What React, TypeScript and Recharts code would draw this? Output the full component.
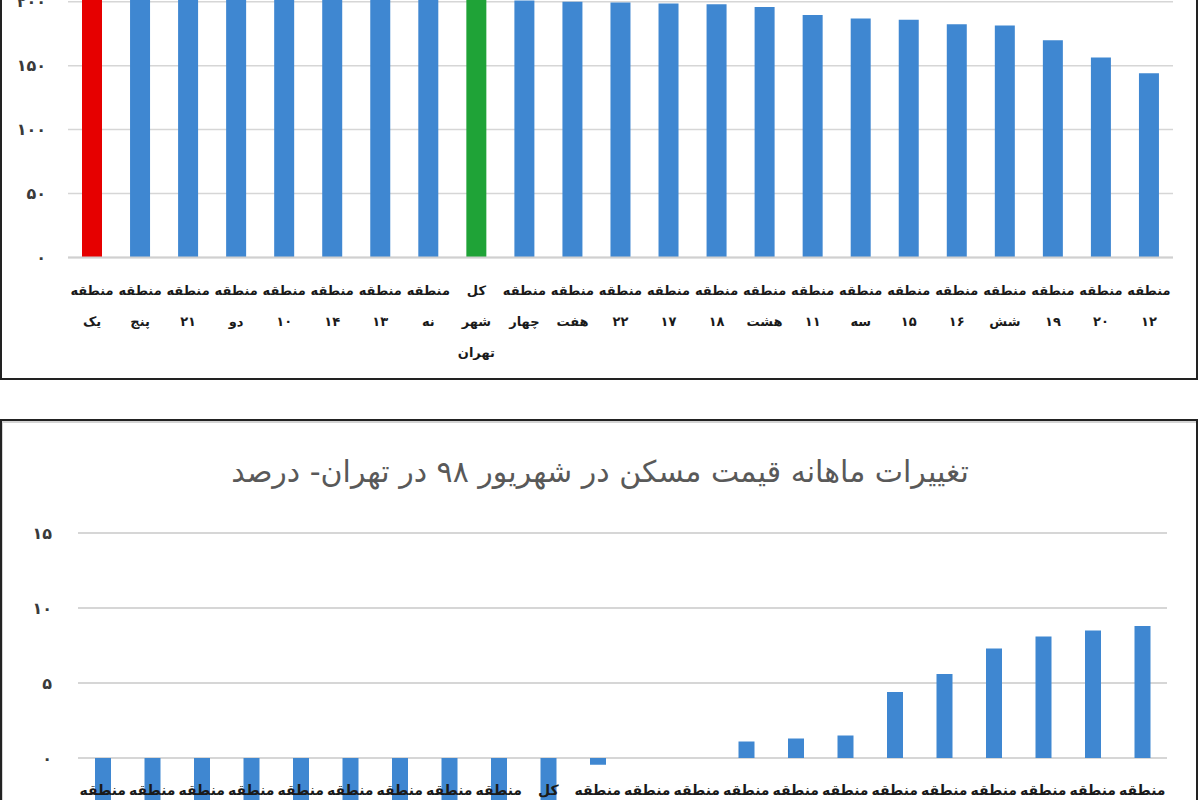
import React from 'react';
import { BarChart, Bar, XAxis, YAxis, CartesianGrid, Cell } from 'recharts';

// ---------- Top chart data ----------
const topCategories = [
  'منطقه یک', 'منطقه پنج', 'منطقه ۲۱', 'منطقه دو', 'منطقه ۱۰', 'منطقه ۱۴', 'منطقه ۱۳', 'منطقه نه',
  'کل شهر تهران', 'منطقه چهار', 'منطقه هفت', 'منطقه ۲۲', 'منطقه ۱۷', 'منطقه ۱۸', 'منطقه هشت',
  'منطقه ۱۱', 'منطقه سه', 'منطقه ۱۵', 'منطقه ۱۶', 'منطقه شش', 'منطقه ۱۹', 'منطقه ۲۰', 'منطقه ۱۲',
];
const topValues = [
  262, 243, 234, 228, 222, 217, 213, 209,
  205, 201, 200, 199.5, 198.7, 198, 196,
  189.6, 187, 186, 182.5, 181.5, 170, 156.5, 144,
];
const topTicks = [0, 50, 100, 150, 200, 250, 300];

// ---------- Bottom chart data ----------
const bottomTitle = 'تغییرات ماهانه قیمت مسکن در شهریور ۹۸ در تهران- درصد';
const bottomCategories = [
  'منطقه یک', 'منطقه دو', 'منطقه سه', 'منطقه ۱۴', 'منطقه پنج', 'منطقه ۱۳', 'منطقه ۲۱', 'منطقه ۱۰',
  'منطقه نه', 'کل شهر تهران', 'منطقه هفت', 'منطقه شش', 'منطقه ۱۸', 'منطقه چهار', 'منطقه ۱۷',
  'منطقه هشت', 'منطقه ۱۱', 'منطقه ۱۵', 'منطقه ۱۶', 'منطقه ۱۹', 'منطقه ۲۰', 'منطقه ۱۲',
];
const bottomValues = [
  -4.6, -4.4, -4.2, -4.0, -3.9, -3.8, -3.6, -3.5,
  -3.3, -3.1, -0.45, 0, 0, 1.1, 1.3,
  1.5, 4.4, 5.6, 7.3, 8.1, 8.5, 8.8,
];
const bottomTicks = [-5, 0, 5, 10, 15];

const BLUE = '#3f87d1';
const RED = '#e60000';
const GREEN = '#1fa337';
const highlightColors: Record<string, string> = {
  'منطقه یک': RED,
  'کل شهر تهران': GREEN,
};

const topData = topCategories.map((name, i) => ({ name, value: topValues[i] }));
const bottomData = bottomCategories.map((name, i) => ({ name, value: bottomValues[i] }));

const faDigits = '۰۱۲۳۴۵۶۷۸۹';
const toFa = (v: number | string) =>
  String(v).replace(/[0-9]/g, (d) => faDigits[Number(d)]);

const FONT = '"DejaVu Sans", sans-serif';

// layout constants
const TOP_PLOT_H = 383.4;
const BOT_PLOT_H = 300;
const BOT_DOMAIN: [number, number] = [-5, 15];
const BOT_ZERO_FROM_BOTTOM = (BOT_PLOT_H * (0 - BOT_DOMAIN[0])) / (BOT_DOMAIN[1] - BOT_DOMAIN[0]);

const TopTick = (props: any) => {
  const { x, y, payload } = props;
  const lines = String(payload.value).split(' ');
  return (
    <g>
      {lines.map((l, i) => (
        <text
          key={i}
          x={x}
          y={y + 38 + i * 31}
          textAnchor="middle"
          fontFamily={FONT}
          fontWeight="bold"
          fontSize={13}
          fill="#1a1a1a"
        >
          {l}
        </text>
      ))}
    </g>
  );
};

const BottomTick = (props: any) => {
  const { x, y, payload } = props;
  const lines = String(payload.value).split(' ');
  const base = y - BOT_ZERO_FROM_BOTTOM;
  return (
    <g>
      {lines.map((l, i) => (
        <text
          key={i}
          x={x}
          y={base + 37 + i * 31}
          textAnchor="middle"
          fontFamily={FONT}
          fontWeight="bold"
          fontSize={14}
          fill="#1a1a1a"
        >
          {l}
        </text>
      ))}
    </g>
  );
};

export default function App() {
  return (
    <div
      style={{
        position: 'absolute',
        left: 0,
        top: 0,
        width: 1200,
        height: 800,
        overflow: 'hidden',
        background: '#ffffff',
      }}
    >
      {/* top frame */}
      <div
        style={{
          position: 'absolute',
          left: 0,
          top: -100,
          width: 1198,
          height: 480,
          boxSizing: 'border-box',
          border: '2px solid #222',
        }}
      />
      {/* bottom frame */}
      <div
        style={{
          position: 'absolute',
          left: 0,
          top: 419,
          width: 1198,
          height: 500,
          boxSizing: 'border-box',
          border: '2px solid #222',
          boxShadow: 'inset 1px 2px 0 0 #d4d4d4',
        }}
      />

      {/* top chart */}
      <div style={{ position: 'absolute', left: 0, top: -146 }}>
        <BarChart
          width={1200}
          height={514}
          data={topData}
          margin={{ top: 20, right: 27, bottom: 0, left: 0 }}
          barCategoryGap={0}
        >
          <CartesianGrid vertical={false} stroke="#d6d6d6" strokeWidth={1.5} />
          <XAxis
            dataKey="name"
            interval={0}
            height={110.6}
            tickSize={0}
            tickMargin={0}
            axisLine={{ stroke: '#d0d0d0', strokeWidth: 2 }}
            tickLine={false}
            tick={(p: any) => <TopTick {...p} />}
          />
          <YAxis
            width={68}
            domain={[0, 300]}
            ticks={topTicks}
            axisLine={false}
            tickLine={false}
            tickSize={0}
            tickMargin={22}
            tickFormatter={(v: number) => toFa(v)}
            tick={{ fontFamily: FONT, fontSize: 16, fontWeight: 'bold', fill: '#3a3a3a' }}
          />
          <Bar dataKey="value" barSize={20} isAnimationActive={false}>
            {topData.map((d) => (
              <Cell key={d.name} fill={highlightColors[d.name] || BLUE} />
            ))}
          </Bar>
        </BarChart>
      </div>

      {/* bottom title */}
      <div
        style={{
          position: 'absolute',
          left: 0,
          top: 453,
          width: 1200,
          textAlign: 'center',
          fontFamily: FONT,
          fontSize: 30,
          lineHeight: '38px',
          color: '#595959',
          direction: 'rtl',
        }}
      >
        {bottomTitle}
      </div>

      {/* bottom chart */}
      <div style={{ position: 'absolute', left: 0, top: 523 }}>
        <BarChart
          width={1200}
          height={340}
          data={bottomData}
          margin={{ top: 10, right: 33, bottom: 0, left: 0 }}
          barCategoryGap={0}
        >
          <CartesianGrid vertical={false} stroke="#d6d6d6" strokeWidth={2} />
          <XAxis
            dataKey="name"
            interval={0}
            height={30}
            tickSize={0}
            tickMargin={0}
            axisLine={false}
            tickLine={false}
            tick={(p: any) => <BottomTick {...p} />}
          />
          <YAxis
            width={78}
            domain={BOT_DOMAIN}
            ticks={bottomTicks}
            axisLine={false}
            tickLine={false}
            tickSize={0}
            tickMargin={26}
            tickFormatter={(v: number) => toFa(v)}
            tick={{ fontFamily: FONT, fontSize: 16, fontWeight: 'bold', fill: '#3a3a3a' }}
          />
          <Bar dataKey="value" barSize={16} fill={BLUE} isAnimationActive={false} />
        </BarChart>
      </div>
    </div>
  );
}
